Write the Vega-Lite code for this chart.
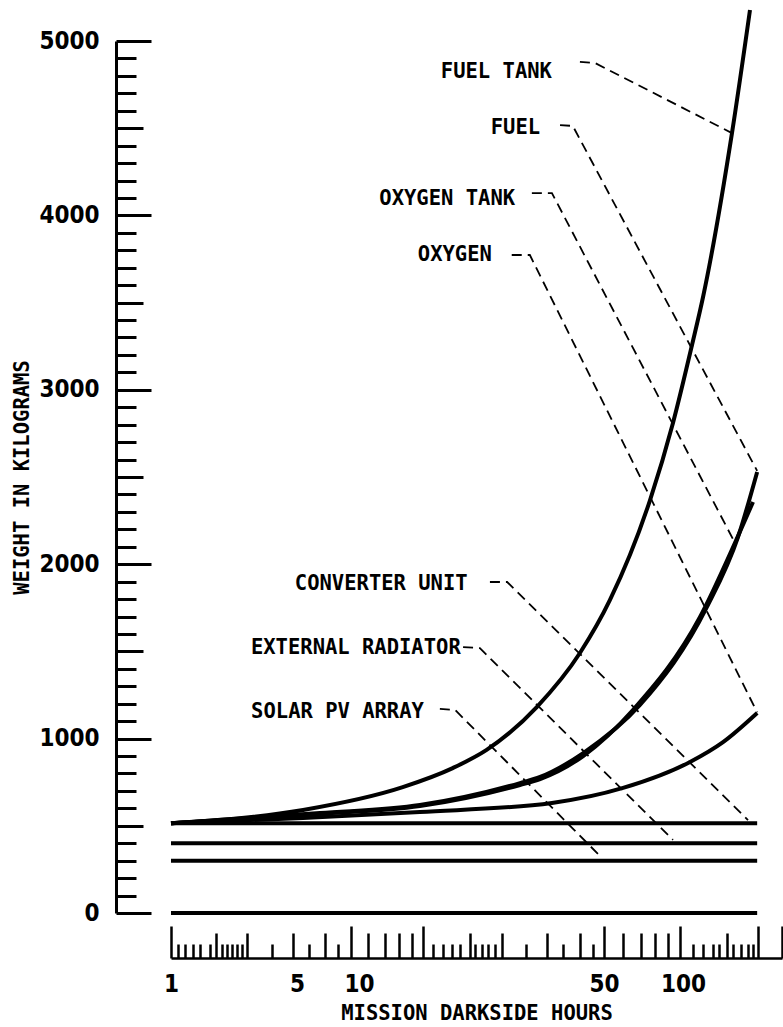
{
  "$schema": "https://vega.github.io/schema/vega-lite/v6.json",
  "width": 612,
  "height": 872,
  "autosize": {"type": "none"},
  "padding": {"left": 170, "top": 41, "right": 1, "bottom": 114},
  "background": "white",
  "config": {
    "view": {"stroke": null},
    "axis": {"grid": false, "domainColor": "black", "tickColor": "black", "labelColor": "black", "titleColor": "black"}
  },
  "datasets": {
    "curves": [
      {"series": "FUEL TANK", "hours": 1, "weight": 515},
      {"series": "FUEL TANK", "hours": 5.64, "weight": 591},
      {"series": "FUEL TANK", "hours": 13.9, "weight": 722},
      {"series": "FUEL TANK", "hours": 19.1, "weight": 831},
      {"series": "FUEL TANK", "hours": 23.7, "weight": 935},
      {"series": "FUEL TANK", "hours": 32.6, "weight": 1181},
      {"series": "FUEL TANK", "hours": 42.9, "weight": 1491},
      {"series": "FUEL TANK", "hours": 52.8, "weight": 1795},
      {"series": "FUEL TANK", "hours": 76.1, "weight": 2368},
      {"series": "FUEL TANK", "hours": 93.8, "weight": 2810},
      {"series": "FUEL TANK", "hours": 111.4, "weight": 3257},
      {"series": "FUEL TANK", "hours": 123, "weight": 3532},
      {"series": "FUEL TANK", "hours": 159.5, "weight": 4472},
      {"series": "FUEL TANK", "hours": 187.5, "weight": 5178},
      {"series": "FUEL", "hours": 1, "weight": 515},
      {"series": "FUEL", "hours": 6.9, "weight": 573},
      {"series": "FUEL", "hours": 15.5, "weight": 619},
      {"series": "FUEL", "hours": 29.3, "weight": 745},
      {"series": "FUEL", "hours": 33.3, "weight": 780},
      {"series": "FUEL", "hours": 43.8, "weight": 917},
      {"series": "FUEL", "hours": 69.4, "weight": 1193},
      {"series": "FUEL", "hours": 127.4, "weight": 1755},
      {"series": "FUEL", "hours": 168.4, "weight": 2156},
      {"series": "FUEL", "hours": 200, "weight": 2529},
      {"series": "OXYGEN TANK", "hours": 1, "weight": 515},
      {"series": "OXYGEN TANK", "hours": 6.9, "weight": 568},
      {"series": "OXYGEN TANK", "hours": 15.5, "weight": 613},
      {"series": "OXYGEN TANK", "hours": 29.3, "weight": 734},
      {"series": "OXYGEN TANK", "hours": 33.3, "weight": 768},
      {"series": "OXYGEN TANK", "hours": 43.8, "weight": 900},
      {"series": "OXYGEN TANK", "hours": 65.1, "weight": 1164},
      {"series": "OXYGEN TANK", "hours": 119.7, "weight": 1697},
      {"series": "OXYGEN TANK", "hours": 163.9, "weight": 2122},
      {"series": "OXYGEN TANK", "hours": 192.7, "weight": 2357},
      {"series": "OXYGEN", "hours": 1, "weight": 515},
      {"series": "OXYGEN", "hours": 5.64, "weight": 545},
      {"series": "OXYGEN", "hours": 15.5, "weight": 579},
      {"series": "OXYGEN", "hours": 35.9, "weight": 631},
      {"series": "OXYGEN", "hours": 59.5, "weight": 717},
      {"series": "OXYGEN", "hours": 109.4, "weight": 866},
      {"series": "OXYGEN", "hours": 147.2, "weight": 980},
      {"series": "OXYGEN", "hours": 200, "weight": 1147},
      {"series": "CONVERTER UNIT", "hours": 1, "weight": 515},
      {"series": "CONVERTER UNIT", "hours": 200, "weight": 515},
      {"series": "EXTERNAL RADIATOR", "hours": 1, "weight": 400},
      {"series": "EXTERNAL RADIATOR", "hours": 200, "weight": 400},
      {"series": "SOLAR PV ARRAY", "hours": 1, "weight": 300},
      {"series": "SOLAR PV ARRAY", "hours": 200, "weight": 300},
      {"series": "BASELINE", "hours": 1, "weight": 0},
      {"series": "BASELINE", "hours": 200, "weight": 0}
    ],
    "leaders": [
      {"label": "FUEL TANK", "order": 1, "hours": 42.9, "weight": 4880},
      {"label": "FUEL TANK", "order": 2, "hours": 47.2, "weight": 4874},
      {"label": "FUEL TANK", "order": 3, "hours": 159.5, "weight": 4472},
      {"label": "FUEL", "order": 1, "hours": 37.8, "weight": 4518},
      {"label": "FUEL", "order": 2, "hours": 41.0, "weight": 4513},
      {"label": "FUEL", "order": 3, "hours": 200, "weight": 2535},
      {"label": "OXYGEN TANK", "order": 1, "hours": 31.6, "weight": 4128},
      {"label": "OXYGEN TANK", "order": 2, "hours": 35.9, "weight": 4128},
      {"label": "OXYGEN TANK", "order": 3, "hours": 163.9, "weight": 2122},
      {"label": "OXYGEN", "order": 1, "hours": 27.8, "weight": 3773},
      {"label": "OXYGEN", "order": 2, "hours": 31.2, "weight": 3773},
      {"label": "OXYGEN", "order": 3, "hours": 200, "weight": 1150},
      {"label": "CONVERTER UNIT", "order": 1, "hours": 24.2, "weight": 1898},
      {"label": "CONVERTER UNIT", "order": 2, "hours": 27.0, "weight": 1898},
      {"label": "CONVERTER UNIT", "order": 3, "hours": 184.2, "weight": 533},
      {"label": "EXTERNAL RADIATOR", "order": 1, "hours": 20.4, "weight": 1525},
      {"label": "EXTERNAL RADIATOR", "order": 2, "hours": 22.7, "weight": 1519},
      {"label": "EXTERNAL RADIATOR", "order": 3, "hours": 93.8, "weight": 419},
      {"label": "SOLAR PV ARRAY", "order": 1, "hours": 17.6, "weight": 1170},
      {"label": "SOLAR PV ARRAY", "order": 2, "hours": 19.4, "weight": 1164},
      {"label": "SOLAR PV ARRAY", "order": 3, "hours": 49.4, "weight": 315}
    ],
    "labels": [
      {"label": "FUEL TANK", "hours": 35.9, "weight": 4822},
      {"label": "FUEL", "hours": 33.3, "weight": 4501},
      {"label": "OXYGEN TANK", "hours": 28.4, "weight": 4094},
      {"label": "OXYGEN", "hours": 24.5, "weight": 3773},
      {"label": "CONVERTER UNIT", "hours": 21.0, "weight": 1886},
      {"label": "EXTERNAL RADIATOR", "hours": 20.1, "weight": 1519},
      {"label": "SOLAR PV ARRAY", "hours": 15.9, "weight": 1153}
    ]
  },
  "encoding": {
    "x": {
      "field": "hours",
      "type": "quantitative",
      "scale": {"type": "log", "domain": [1, 5, 10, 50, 100, 250], "range": [1, 123, 181, 434, 510, 612], "nice": false},
      "axis": {
        "title": "MISSION DARKSIDE HOURS",
        "offset": 45,
        "values": [1, 1.097, 1.203, 1.337, 1.466, 1.673, 1.811, 1.96, 2.093, 2.236, 2.389, 2.552, 2.725, 3.79, 5, 6.05, 7.33, 8.56, 10, 11.14, 12.41, 13.57, 14.74, 15.81, 16.85, 17.95, 19.01, 20, 21.32, 22, 23, 23.9, 25, 26.1, 30.4, 34.8, 38.5, 42.9, 46.6, 50, 59.5, 70.1, 79.6, 89.6, 100, 112.4, 123, 134.5, 142, 152.5, 161, 173, 184.2, 192.7, 201.5, 250],
        "tickSize": {
          "condition": [
            {"test": "indexof([1, 10, 15.81, 50, 100, 201.5, 250], datum.value) >= 0", "value": -32},
            {"test": "indexof([1.811, 2.725, 5, 7.33, 11.14, 12.41, 13.57, 14.74, 21.32, 26.1, 34.8, 42.9, 59.5, 70.1, 79.6, 89.6, 152.5], datum.value) >= 0", "value": -25}
          ],
          "value": -14
        },
        "tickWidth": 2.5,
        "domainWidth": 2.5,
        "labelExpr": "indexof([1, 5, 10, 50, 100], datum.value) >= 0 ? '' + datum.value : ''",
        "labelPadding": {"condition": {"test": "datum.value === 5", "value": 39}, "value": 46},
        "labelOffset": {
          "condition": [
            {"test": "datum.value === 10", "value": 8},
            {"test": "datum.value === 5", "value": 4},
            {"test": "datum.value === 100", "value": 3}
          ],
          "value": 0
        },
        "labelFont": "Liberation Sans Narrow, DejaVu Sans Condensed, sans-serif",
        "labelFontSize": 24,
        "labelFontWeight": "bold",
        "labelOverlap": false,
        "labelFlush": false,
        "titleFont": "DejaVu Sans Mono",
        "titleFontSize": 20.5,
        "titleFontWeight": "bold",
        "titleY": 55,
        "titleBaseline": "middle"
      }
    },
    "y": {
      "field": "weight",
      "type": "quantitative",
      "scale": {"domain": [0, 5000], "nice": false, "zero": false},
      "axis": {
        "title": "WEIGHT IN KILOGRAMS",
        "offset": 54,
        "values": [0, 100, 200, 300, 400, 500, 600, 700, 800, 900, 1000, 1100, 1200, 1300, 1400, 1500, 1600, 1700, 1800, 1900, 2000, 2100, 2200, 2300, 2400, 2500, 2600, 2700, 2800, 2900, 3000, 3100, 3200, 3300, 3400, 3500, 3600, 3700, 3800, 3900, 4000, 4100, 4200, 4300, 4400, 4500, 4600, 4700, 4800, 4900, 5000],
        "format": "d",
        "labelExpr": "datum.value % 1000 === 0 ? datum.label : ''",
        "tickSize": {
          "condition": [
            {"test": "datum.value % 1000 === 0", "value": -35},
            {"test": "datum.value % 500 === 0", "value": -27}
          ],
          "value": -20
        },
        "tickWidth": 3,
        "domainWidth": 3,
        "labelPadding": 52,
        "labelFont": "Liberation Sans Narrow, DejaVu Sans Condensed, sans-serif",
        "labelFontSize": 24,
        "labelFontWeight": "bold",
        "labelOverlap": false,
        "labelFlush": false,
        "titleFont": "DejaVu Sans Mono",
        "titleFontSize": 20.5,
        "titleFontWeight": "bold",
        "titleX": -94,
        "titleBaseline": "middle"
      }
    }
  },
  "layer": [
    {
      "data": {"name": "curves"},
      "mark": {"type": "line", "color": "black", "strokeWidth": 4, "interpolate": "monotone"},
      "encoding": {"detail": {"field": "series", "type": "nominal"}}
    },
    {
      "data": {"name": "leaders"},
      "mark": {"type": "line", "color": "black", "strokeWidth": 1.8, "strokeDash": [10, 6]},
      "encoding": {
        "detail": {"field": "label", "type": "nominal"},
        "order": {"field": "order", "type": "quantitative"}
      }
    },
    {
      "data": {"name": "labels"},
      "mark": {"type": "text", "align": "right", "baseline": "middle", "font": "DejaVu Sans Mono", "fontSize": 20.5, "fontWeight": "bold", "color": "black"},
      "encoding": {"text": {"field": "label", "type": "nominal"}}
    }
  ]
}
